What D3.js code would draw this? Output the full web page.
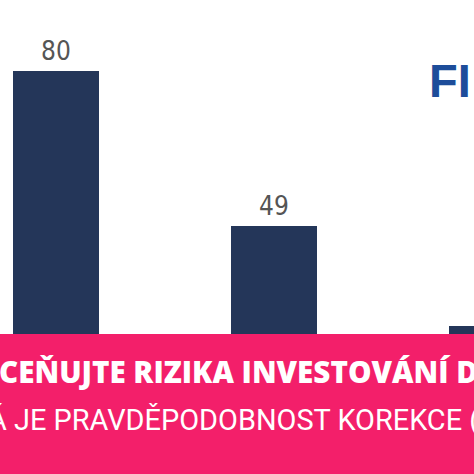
<!DOCTYPE html>
<html>
<head>
<meta charset="utf-8">
<script src="https://cdn.jsdelivr.net/npm/d3@7"></script>
<style>
  html, body { margin: 0; padding: 0; background: #fff; overflow: hidden; }
</style>
</head>
<body>
<div id="chart"></div>
<script>
// bar values (third bar is cut off on the right edge)
var categories = ["1", "2", "3"];
var values = [80, 49, 29];
var bannerLines = ["CEŇUJTE RIZIKA INVESTOVÁNÍ D", "Á JE PRAVDĚPODOBNOST KOREKCE ("];
var logoText = "FI";

var width = 474,
    height = 474;

var svg = d3.select("#chart").append("svg")
    .attr("width", width)
    .attr("height", height);

var x = d3.scaleBand()
    .domain(categories)
    .range([13, 535])
    .paddingInner(0.6055)
    .paddingOuter(0);

var y = d3.scaleLinear()
    .domain([0, 80])
    .range([471, 71]);

svg.selectAll(".bar")
    .data(values)
    .enter().append("rect")
    .attr("class", "bar")
    .attr("x", function(d, i) { return x(categories[i]); })
    .attr("y", function(d) { return y(d); })
    .attr("width", x.bandwidth())
    .attr("height", function(d) { return y(0) - y(d); })
    .attr("fill", "#243659");

// only the labels that sit inside the picture are visible
svg.selectAll(".label")
    .data(values.filter(function(d, i) {
        return x(categories[i]) + x.bandwidth() < width;
    }))
    .enter().append("text")
    .attr("class", "label")
    .attr("x", function(d, i) { return x(categories[i]) + x.bandwidth() / 2; })
    .attr("y", function(d) { return y(d) - 11; })
    .attr("text-anchor", "middle")
    .style("font", "26px 'Liberation Sans Narrow', 'DejaVu Sans Condensed', sans-serif")
    .attr("fill", "#555")
    .text(function(d) { return d; });

// logo in the corner
svg.append("text")
    .attr("x", 429)
    .attr("y", 97)
    .style("font", "bold 47px 'Liberation Sans', Arial, sans-serif")
    .attr("fill", "#1d4d9a")
    .text(logoText);

// pink banner
svg.append("rect")
    .attr("x", 0)
    .attr("y", 334)
    .attr("width", width)
    .attr("height", height - 334)
    .attr("fill", "#f31f6a");

svg.append("text")
    .attr("x", -1)
    .attr("y", 383)
    .style("font", "800 29.6px 'Open Sans', sans-serif")
    .attr("fill", "#fff")
    .text(bannerLines[0]);

svg.append("text")
    .attr("x", -12)
    .attr("y", 430)
    .style("font", "400 28.9px Roboto, sans-serif")
    .attr("fill", "#fff")
    .text(bannerLines[1]);
</script>
</body>
</html>
